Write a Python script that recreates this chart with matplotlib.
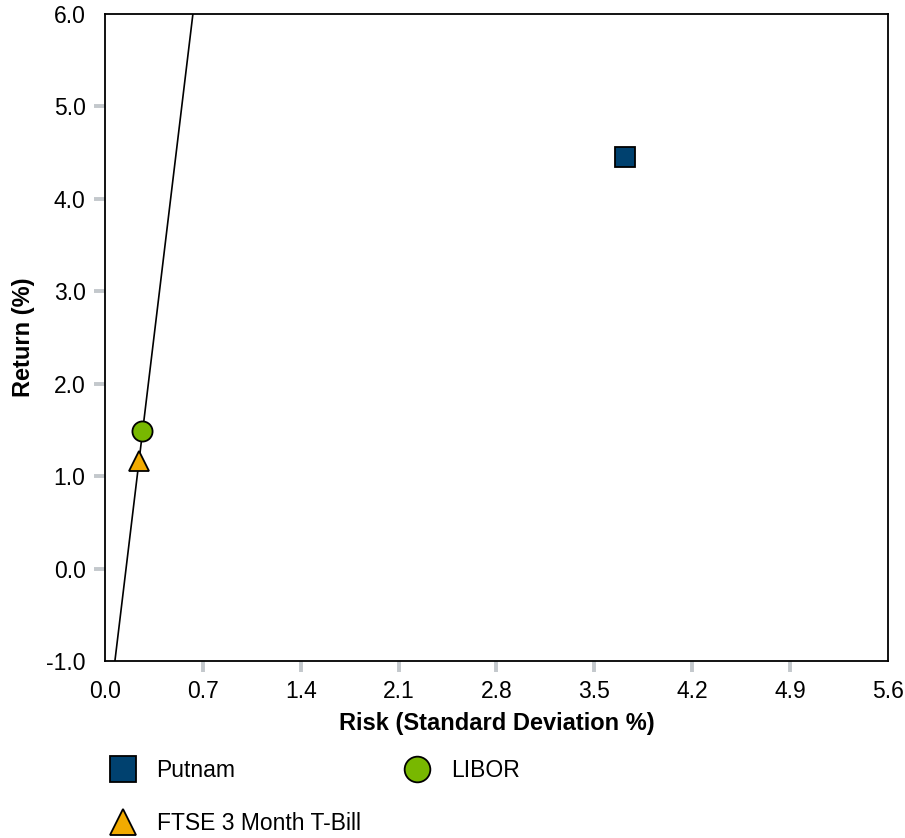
import matplotlib.pyplot as plt
from matplotlib.lines import Line2D

plt.rcParams['font.family'] = ['Liberation Sans', 'DejaVu Sans']

# risk / return points
names = ["Putnam", "LIBOR", "FTSE 3 Month T-Bill"]
risk = [3.72, 0.264, 0.243]
ret = [4.45, 1.487, 1.16]
colors = ['#00416f', '#78b800', '#f2ab00']
markers = ['s', 'o', '^']

# capital market line end points
line_x = [0.071, 0.629]
line_y = [-1.0, 6.0]

xticks = [0.0, 0.7, 1.4, 2.1, 2.8, 3.5, 4.2, 4.9, 5.6]
yticks = [-1.0, 0.0, 1.0, 2.0, 3.0, 4.0, 5.0, 6.0]

fig = plt.figure(figsize=(9.05, 8.38), dpi=100)
ax = fig.add_axes([0.116, 0.2112, 0.865, 0.7721])

ax.plot(line_x, line_y, color='black', lw=1.2, zorder=2)
for i in range(len(names)):
    ax.plot(risk[i], ret[i], marker=markers[i], ms=14.5, color=colors[i],
            mec='black', mew=1.3, ls='none', zorder=3)

ax.set_xlim(0.0, 5.6)
ax.set_ylim(-1.0, 6.0)
ax.set_xticks(xticks)
ax.set_yticks(yticks)
ax.set_xticklabels(['%.1f' % v for v in xticks])
ax.set_yticklabels(['%.1f' % v for v in yticks])
ax.tick_params(axis='both', length=8, width=2.8, color='#c3c8cc', labelsize=16.5)
ax.tick_params(axis='x', pad=6)
ax.tick_params(axis='y', pad=6)
# no tick marks at the frame corners
for t in [ax.xaxis.get_major_ticks()[0], ax.xaxis.get_major_ticks()[-1],
          ax.yaxis.get_major_ticks()[0], ax.yaxis.get_major_ticks()[-1]]:
    t.tick1line.set_visible(False)
for s in ax.spines.values():
    s.set_linewidth(1.3)

ax.set_xlabel("Risk (Standard Deviation %)", fontsize=17, fontweight='bold', labelpad=6)
ax.set_ylabel("Return (%)", fontsize=17, fontweight='bold', labelpad=8)

order = [0, 2, 1]
handles = []
for i in order:
    handles.append(Line2D([], [], marker=markers[i], ms=18.5, color=colors[i], mec='black',
                          mew=1.3, ls='none'))
fig.legend(handles, [names[i] for i in order], loc='upper left',
           bbox_to_anchor=(0.094, 0.119), ncol=2, frameon=False, fontsize=16.5,
           labelspacing=1.3, columnspacing=1.73, handletextpad=0.72, handlelength=1.5)

fig.savefig('out.png', dpi=100)
